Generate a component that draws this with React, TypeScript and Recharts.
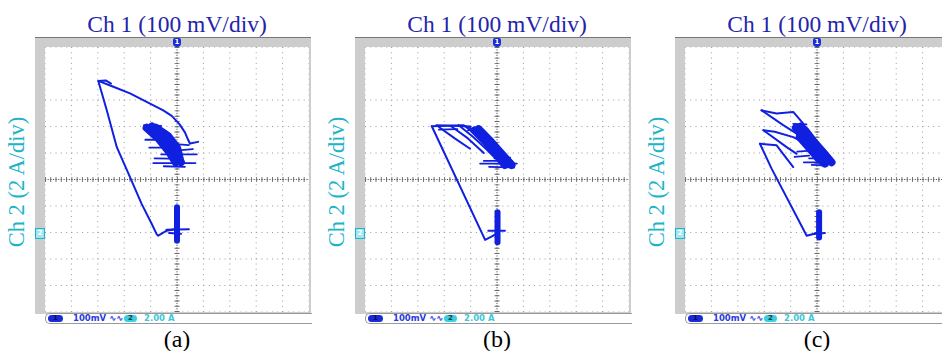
import React from "react";
import { CartesianGrid, ReferenceLine, Scatter, ScatterChart, XAxis, YAxis } from "recharts";

// grid is 10 x 10 divisions, centre = 0
const TICKS = [-5, -4, -3, -2, -1, 0, 1, 2, 3, 4, 5];

// (a) — values in divisions (x: Ch 1, y: Ch 2)
const aTrace = [
  [[0.49, 1.36], [0.43, 1.48], [0.3, 1.78], [0.1, 2.08], [-0.2, 2.4], [-0.52, 2.61], [-1.15, 2.93], [-1.78, 3.25], [-2.41, 3.5], [-2.98, 3.72],
   [-2.66, 2.61], [-2.28, 1.22], [-1.78, 0.09], [-1.34, -0.92], [-0.96, -1.67], [-0.77, -2.06], [-0.71, -2.12], [-0.39, -1.93], [-0.01, -1.86]],
  [[-2.98, 3.72], [-2.7, 3.74], [-2.5, 3.62]],
  [[0.49, 1.36], [0.8, 1.42]]
];
const aCore = [
  [[-1.15, 1.95], [-0.7, 1.55], [-0.3, 1.05], [-0.05, 0.65]],
  [[-0.95, 2.0], [-0.5, 1.6], [-0.1, 1.1], [0.15, 0.65]],
  [[-0.8, 1.95], [-0.35, 1.65], [0.0, 1.2], [0.1, 0.8]]
];
const aStreaks = [
  [[-1.2, 1.5], [-0.5, 1.5]],
  [[-1.05, 1.2], [-0.3, 1.2]],
  [[-0.3, 1.35], [0.45, 1.3]],
  [[-0.6, 0.95], [0.75, 0.95]],
  [[-0.9, 0.62], [0.7, 0.62]],
  [[-0.5, 0.5], [0.3, 0.48]],
  [[0.05, 1.1], [0.6, 1.15]],
  [[-1.25, 2.05], [-0.6, 2.02]],
  [[-0.85, 0.8], [0.2, 0.78]]
];
const aFoot = [[[0, -1.05], [0, -2.3]]];
const aFootStreaks = [[[-0.4, -1.9], [0.45, -1.88]], [[-0.3, -2.02], [0.15, -2.05]]];

// (b)
const bTrace = [
  [[-2.47, 2.01], [-0.45, -2.28], [-0.14, -2.12], [0, -2.02]],
  [[-2.47, 2.01], [-1.9, 2.03], [-1.28, 2.05], [-0.83, 1.86]],
  [[-2.2, 1.98], [-1.6, 1.55], [-1.02, 1.16]],
  [[-1.75, 2.02], [-1.1, 1.55], [-0.5, 1.0]],
  [[-1.45, 2.05], [-0.9, 1.6], [-0.3, 1.05]],
  [[-1.2, 2.0], [-0.6, 1.55], [-0.1, 1.0]]
];
const bCore = [
  [[-0.85, 1.85], [-0.45, 1.45], [-0.05, 1.0], [0.3, 0.6]],
  [[-0.7, 1.9], [-0.3, 1.5], [0.1, 1.05], [0.5, 0.6]],
  [[-0.55, 1.7], [-0.15, 1.3], [0.2, 0.9], [0.55, 0.55]],
  [[-0.2, 1.1], [0.1, 0.8], [0.3, 0.55]]
];
const bStreaks = [
  [[-0.64, 0.6], [0.75, 0.6]],
  [[-0.3, 0.48], [0.65, 0.45]],
  [[-0.1, 0.8], [0.5, 0.82]],
  [[-0.5, 0.7], [0.2, 0.7]],
  [[-1.1, 1.85], [-0.6, 1.9]],
  [[-2.2, 1.88], [-1.5, 1.9]],
  [[-2.3, 2.05], [-1.0, 2.0]]
];
const bFoot = [[[0.02, -1.24], [0.02, -2.37]]];
const bFootStreaks = [[[-0.33, -1.93], [0.3, -1.93]]];

// (c)
const cTrace = [
  [[-2.16, 1.35], [-1.72, 0.41], [-0.39, -2.12], [-0.14, -2.06], [0, -2.0]],
  [[-2.1, 2.61], [-1.53, 2.49], [-0.9, 2.55], [-0.52, 2.11]],
  [[-2.1, 2.61], [-1.28, 2.05], [-0.77, 1.73]],
  [[-2.03, 1.86], [-1.15, 1.22], [-0.77, 0.97]],
  [[-2.03, 1.86], [-1.6, 1.8], [-0.9, 1.6], [-0.5, 1.4]],
  [[-2.16, 1.35], [-1.53, 1.29], [-0.9, 0.47]]
];
const cCore = [
  [[-0.8, 1.95], [-0.45, 1.5], [-0.1, 1.05], [0.2, 0.7]],
  [[-0.6, 2.0], [-0.25, 1.55], [0.1, 1.1], [0.4, 0.7]],
  [[-0.45, 1.85], [-0.1, 1.4], [0.25, 1.0], [0.55, 0.65]],
  [[-0.65, 1.6], [-0.3, 1.2], [0.05, 0.8], [0.3, 0.6]]
];
const cStreaks = [
  [[-0.5, 0.65], [0.62, 0.65]],
  [[-0.3, 0.8], [0.5, 0.8]],
  [[-0.2, 0.55], [0.4, 0.52]],
  [[-0.75, 1.05], [-0.1, 1.1]],
  [[-0.85, 0.85], [-0.3, 0.9]],
  [[-0.9, 2.1], [-0.4, 2.08]]
];
const cFoot = [[[0.08, -1.24], [0.08, -2.19]]];
const cFootStreaks = [[[-0.14, -2.06], [0.3, -2.02]]];

const TRACE = "#1020e0";
const TITLE = "#2424aa";
const CYAN = "#1eb4c8";

const toPts = (arr: number[][]) => arr.map(([x, y]) => ({ x, y }));
const NoDot = () => <g />;

function strokes(list: number[][][], w: number, key: string) {
  return list.map((s, i) => (
    <Scatter
      key={key + i}
      data={toPts(s)}
      shape={NoDot}
      line={{ stroke: TRACE, strokeWidth: w, strokeLinecap: "round", strokeLinejoin: "round" }}
      lineType="joint"
      legendType="none"
      isAnimationActive={false}
    />
  ));
}

function Scope({ left, tag, trace, core, streaks, foot, footStreaks }: any) {
  const W = 264;
  const mid = left + W / 2;
  return (
    <>
      <div style={{ position: "absolute", left: mid - 130, top: 12, width: 260, textAlign: "center", fontFamily: "Liberation Serif", fontSize: 23.5, lineHeight: "24px", color: TITLE, whiteSpace: "nowrap" }}>
        Ch 1 (100 mV/div)
      </div>
      <div style={{ position: "absolute", left: left - 28 - 100, top: 182 - 11, width: 200, height: 22, textAlign: "center", fontFamily: "Liberation Serif", fontSize: 22.5, lineHeight: "22px", color: CYAN, transform: "rotate(-90deg)", whiteSpace: "nowrap" }}>
        Ch 2 (2 A/div)
      </div>
      {/* scope frame */}
      <div style={{ position: "absolute", left: left - 10, top: 37, width: W + 12, height: 276, background: "#cdcdcd", borderTop: "1px solid #777" }} />
      <div style={{ position: "absolute", left: left, top: 47, width: W, height: 265, background: "#fff" }} />
      <div style={{ position: "absolute", left: mid - 4, top: 38, width: 8, height: 9, background: "#1a2ad8", borderRadius: "2px 2px 4px 4px", color: "#fff", fontSize: 7, fontWeight: 700, fontFamily: "DejaVu Sans", textAlign: "center", lineHeight: "9px" }}>1</div>
      <div style={{ position: "absolute", left: left - 10, top: 228, width: 8, height: 9, background: "#9fe6ee", border: "1px solid " + CYAN, color: "#fff", fontSize: 7, fontWeight: 700, fontFamily: "DejaVu Sans", textAlign: "center", lineHeight: "9px" }}>2</div>
      <div style={{ position: "absolute", left: left, top: 47 }}>
        <ScatterChart width={W} height={265} margin={{ top: 0, right: 0, bottom: 0, left: 0 }}>
          <CartesianGrid stroke="#999" strokeDasharray="1 4.28" />
          <XAxis type="number" dataKey="x" domain={[-5, 5]} ticks={TICKS} hide />
          <YAxis type="number" dataKey="y" domain={[-5, 5]} ticks={TICKS} hide />
          <ReferenceLine x={0} stroke="#555" strokeDasharray="1.2 1.44" />
          <ReferenceLine y={0} stroke="#555" strokeDasharray="1.2 1.44" />
          <ReferenceLine x={0} stroke="#666" strokeWidth={5} strokeDasharray="0.9 4.38" />
          <ReferenceLine y={0} stroke="#666" strokeWidth={5} strokeDasharray="0.9 4.38" />
          {strokes(core, 8, "core")}
          {strokes(trace, 2, "trace")}
          {strokes(streaks, 1.8, "streak")}
          {strokes(foot, 6, "foot")}
          {strokes(footStreaks, 2, "fs")}
        </ScatterChart>
      </div>
      {/* status bar */}
      <div style={{ position: "absolute", left: left, top: 313, width: W + 2, height: 9, background: "#fff", border: "1px solid #999", borderRight: "none", borderRadius: "5px 0 0 5px", fontFamily: "DejaVu Sans", fontSize: 8.5, fontWeight: 700, lineHeight: "9px", whiteSpace: "nowrap" }}>
        <span style={{ position: "absolute", left: 2, top: 1, width: 15, height: 7, borderRadius: 4, background: "#1a2ad8", color: "#0a0a60", fontSize: 7, lineHeight: "7px", textAlign: "center" }}>1</span>
        <span style={{ position: "absolute", left: 27, top: 0, color: "#2a3ae0" }}>100mV ∿∿</span>
        <span style={{ position: "absolute", left: 78, top: 1, width: 13, height: 7, borderRadius: 4, background: "#38d0dc", color: "#0a3a50", fontSize: 7, lineHeight: "7px", textAlign: "center" }}>2</span>
        <span style={{ position: "absolute", left: 98, top: 0, color: "#3cc8d8" }}>2.00 A</span>
      </div>
      <div style={{ position: "absolute", left: mid - 40, top: 327, width: 80, textAlign: "center", fontFamily: "Liberation Serif", fontSize: 24, lineHeight: "24px", color: "#000" }}>
        ({tag})
      </div>
    </>
  );
}

export default function App() {
  return (
    <div style={{ position: "absolute", left: 0, top: 0, width: 942, height: 351, overflow: "hidden", background: "#fff" }}>
      <Scope left={45} tag="a" trace={aTrace} core={aCore} streaks={aStreaks} foot={aFoot} footStreaks={aFootStreaks} />
      <Scope left={365} tag="b" trace={bTrace} core={bCore} streaks={bStreaks} foot={bFoot} footStreaks={bFootStreaks} />
      <Scope left={685} tag="c" trace={cTrace} core={cCore} streaks={cStreaks} foot={cFoot} footStreaks={cFootStreaks} />
    </div>
  );
}
